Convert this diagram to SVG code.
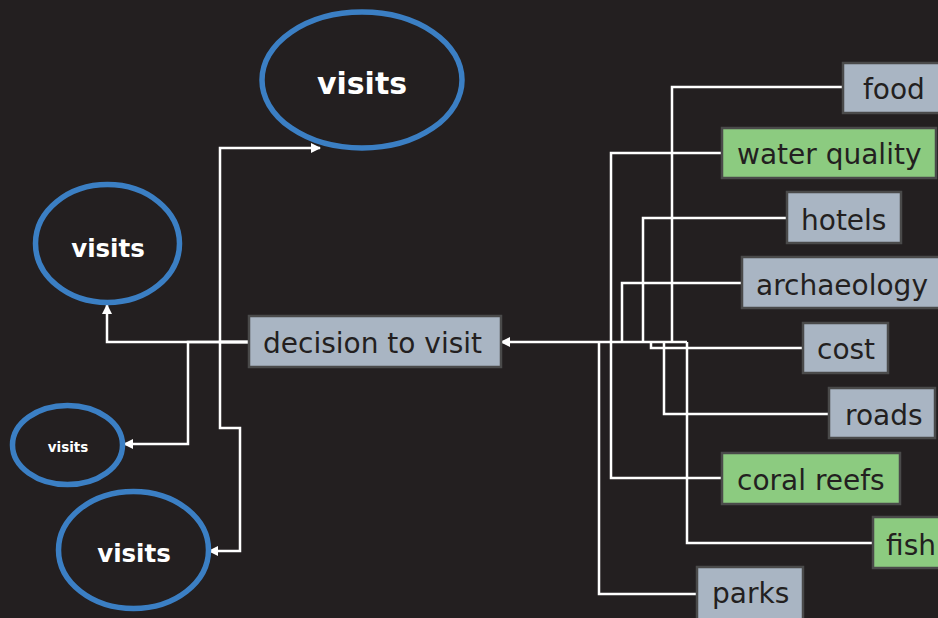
<svg xmlns="http://www.w3.org/2000/svg" width="938" height="618" viewBox="0 0 938 618">
<defs>
<marker id="arr" viewBox="0 0 10 10" refX="9" refY="5" markerWidth="10" markerHeight="10" markerUnits="userSpaceOnUse" orient="auto">
<path d="M0,0 L10,5 L0,10 z" fill="#ffffff"/>
</marker>
<style>
.ell{fill:none;stroke:#3b7fc4;stroke-width:5.5}
.et{fill:#ffffff;font-family:"DejaVu Sans",Verdana,sans-serif;font-weight:bold;text-anchor:middle}
.gray{fill:#a9b5c3;stroke:#4a4a4a;stroke-width:2.5}
.green{fill:#8ccb80;stroke:#4a4a4a;stroke-width:2.5}
.bt{fill:#231f20;font-family:"DejaVu Sans",Verdana,sans-serif;font-size:28px}
.c{fill:none;stroke:#ffffff;stroke-width:2.5}
.ca{fill:none;stroke:#ffffff;stroke-width:2.5;marker-end:url(#arr)}
</style>
</defs>
<rect x="0" y="0" width="938" height="618" fill="#231f20"/>
<g id="connectors">
<path class="c" d="M843,87 H672 V342"/>
<path class="c" d="M722,153 H611 V342"/>
<path class="c" d="M787,218 H643 V342"/>
<path class="c" d="M742,283 H622 V342"/>
<path class="c" d="M803,348 H651 V342"/>
<path class="c" d="M829,414 H664 V342"/>
<path class="c" d="M722,478 H611 V342"/>
<path class="c" d="M873,543 H687 V342"/>
<path class="c" d="M697,594 H599 V342"/>
<path class="ca" d="M687,342 H501"/>
<path class="ca" d="M249,342 H107 V305"/>
<path class="ca" d="M249,342 H188 V444 H124"/>
<path class="ca" d="M249,342 H220 V148 H320"/>
<path class="ca" d="M249,342 H220 V428 H240 V551 H209"/>
</g>
<g id="visits-top"><ellipse class="ell" cx="362" cy="80" rx="100" ry="68"/><text class="et" x="362" y="94" font-size="30">visits</text></g>
<g id="visits-left"><ellipse class="ell" cx="107.5" cy="243.5" rx="72" ry="59"/><text class="et" x="108" y="257" font-size="24.5">visits</text></g>
<g id="visits-small"><ellipse class="ell" cx="67.5" cy="445" rx="55" ry="39.5"/><text class="et" x="68" y="452" font-size="13.5">visits</text></g>
<g id="visits-bottom"><ellipse class="ell" cx="133.5" cy="550" rx="75" ry="58.5"/><text class="et" x="134" y="562" font-size="24.5">visits</text></g>
<g id="decision"><rect class="gray" x="249" y="316" width="252" height="51"/><text class="bt" x="263" y="353">decision to visit</text></g>
<g id="food"><rect class="gray" x="843" y="63" width="102" height="50"/><text class="bt" x="863" y="99">food</text></g>
<g id="water-quality"><rect class="green" x="722" y="128" width="214" height="50"/><text class="bt" x="737" y="164">water quality</text></g>
<g id="hotels"><rect class="gray" x="787" y="192" width="114" height="51"/><text class="bt" x="801" y="230">hotels</text></g>
<g id="archaeology"><rect class="gray" x="742" y="257" width="200" height="51"/><text class="bt" x="756" y="295">archaeology</text></g>
<g id="cost"><rect class="gray" x="803" y="323" width="85" height="50"/><text class="bt" x="817" y="359">cost</text></g>
<g id="roads"><rect class="gray" x="829" y="388" width="106" height="50"/><text class="bt" x="845" y="425">roads</text></g>
<g id="coral-reefs"><rect class="green" x="722" y="453" width="178" height="51"/><text class="bt" x="737" y="490">coral reefs</text></g>
<g id="fish"><rect class="green" x="873" y="517" width="72" height="51"/><text class="bt" x="886" y="555">fish</text></g>
<g id="parks"><rect class="gray" x="697" y="567" width="106" height="56"/><text class="bt" x="712" y="603">parks</text></g>
</svg>
